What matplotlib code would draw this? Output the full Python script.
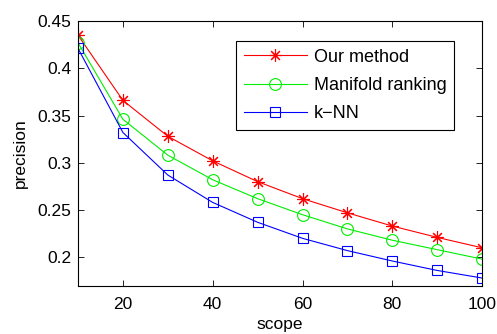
import matplotlib
matplotlib.use("Agg")
import matplotlib.pyplot as plt

# data
scope = [10, 20, 30, 40, 50, 60, 70, 80, 90, 100]
ours = [0.435, 0.366, 0.328, 0.302, 0.280, 0.262, 0.247, 0.233, 0.221, 0.210]
manifold = [0.427, 0.346, 0.308, 0.282, 0.262, 0.245, 0.230, 0.218, 0.208, 0.198]
knn = [0.421, 0.332, 0.287, 0.258, 0.237, 0.220, 0.207, 0.196, 0.186, 0.178]

plt.rcParams['font.family'] = ['Liberation Sans', 'DejaVu Sans']
plt.rcParams['font.size'] = 12.5

fig = plt.figure(figsize=(4.97, 3.34), dpi=100)
ax = fig.add_axes([0.157, 0.145, 0.813, 0.792])

# matlab-style asterisk: plus and cross together
ax.plot(scope, ours, color='red', lw=0.8, marker=(8, 2, 0), ms=9,
        mec='red', mew=0.8, label='Our method')
ax.plot(scope, manifold, color='#00ee00', lw=0.8, marker='o', ms=8.5, mfc='none',
        mec='#00ee00', mew=0.8, label='Manifold ranking')
ax.plot(scope, knn, color='blue', lw=0.8, marker='s', ms=7.5, mfc='none',
        mec='blue', mew=0.8, label='k\u2212NN')

ax.set_xlim(10, 100)
ax.set_ylim(0.17, 0.45)
ax.set_xticks([20, 40, 60, 80, 100])
ax.set_yticks([0.2, 0.25, 0.3, 0.35, 0.4, 0.45])
ax.set_yticklabels(['0.2', '0.25', '0.3', '0.35', '0.4', '0.45'])
ax.tick_params(direction='in', top=True, right=True, length=4, width=0.6)
ax.tick_params(axis='x', pad=8)
ax.tick_params(axis='y', pad=5)
for s in ax.spines.values():
    s.set_linewidth(0.8)

ax.set_xlabel('scope', labelpad=4)
ax.set_ylabel('precision', labelpad=7)

leg = ax.legend(loc='upper left', bbox_to_anchor=(0.391, 0.924), frameon=True,
                fancybox=False, edgecolor='black', handlelength=3.5,
                borderpad=0.42, labelspacing=0.62, handletextpad=0.4,
                borderaxespad=0, framealpha=1, fontsize=13)
leg.get_frame().set_linewidth(0.8)

fig.savefig('out.png', dpi=100)
